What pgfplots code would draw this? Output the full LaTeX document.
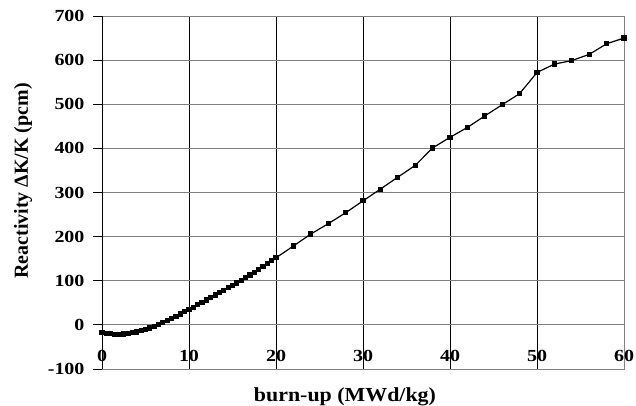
\documentclass[border=0pt]{standalone}
\usepackage{pgfplots}
\pgfplotsset{compat=1.18}
\usepackage{fontspec}
\setmainfont{Liberation Serif}

\definecolor{gridgray}{RGB}{128,128,128}

\begin{document}
\begin{tikzpicture}
\begin{axis}[
    at={(0,0)}, anchor=south west,
    width=522bp, height=353bp, scale only axis,
    xmin=0, xmax=60, ymin=-100, ymax=700,
    xtick={0,10,...,50},
    extra x ticks={60},
    extra x tick style={xmajorgrids=false},
    ytick={-100,0,...,700},
    xmajorgrids, ymajorgrids,
    x grid style={black, line width=0.8bp},
    y grid style={gridgray, line width=0.8bp},
    axis line style={gridgray, line width=0.8bp},
    xtick style={draw=none},
    ytick style={black, line width=0.8bp},
    tick align=outside,
    major tick length=9bp,
    ytick pos=left,
    xtick pos=bottom,
    /pgf/number format/assume math mode=true,
    tick label style={font=\fontsize{17}{20}\selectfont\bfseries},
    xticklabel={\scalebox{1.18}[1]{\pgfmathprintnumber{\tick}}},
    yticklabel={\scalebox{1.18}[1]{\pgfmathprintnumber{\tick}}},
    x tick label style={anchor=south, yshift=13bp},
    y tick label style={anchor=east, xshift=-5bp},
    xlabel={\scalebox{1.1}[1]{burn-up (MWd/kg)}},
    ylabel={Reactivity ΔK/K (pcm)},
    label style={font=\fontsize{20}{24}\selectfont\bfseries},
    xlabel style={at={(axis description cs:0.4655,-0.078)}, anchor=center},
    ylabel style={at={(axis description cs:-0.151,0.533)}, anchor=center},
    clip=false,
]
\draw[black, line width=0.8bp] (axis cs:0,-100) -- (axis cs:0,700);
\addplot[black, line width=1.2bp, mark=square*, mark size=2bp] coordinates {
(0,-17) (0.5,-19) (1,-20) (1.5,-21) (2,-21) (2.5,-20.5) (3,-19.5) (3.5,-18)
(4,-16) (4.5,-13.5) (5,-10.5) (5.5,-7) (6,-3) (6.5,1) (7,5.5) (7.5,10)
(8,14.5) (8.5,19.5) (9,24.5) (9.5,29.5) (10,35) (10.5,40) (11,45.5) (11.5,51)
(12,56.5) (12.5,62) (13,67.5) (13.5,73) (14,78.5) (14.5,84) (15,89.5) (15.5,95)
(16,101) (16.5,107) (17,113) (17.5,119) (18,125.5) (18.5,132) (19,138.5) (19.5,145)
(20,152) (22,178.7) (24,205.9) (26,229.2) (28,254.1) (30,281) (32,307.7)
(34,334.8) (36,361.3) (38,401) (40,425) (42,447.5) (44,473.5) (46,499)
(48,524) (50,572) (52,591) (54,599) (56,613) (58,637) (60,650)
};
\end{axis}
\pgfresetboundingbox
\path[use as bounding box] (-102bp,-37bp) rectangle (534bp,369bp);
\end{tikzpicture}
\end{document}
